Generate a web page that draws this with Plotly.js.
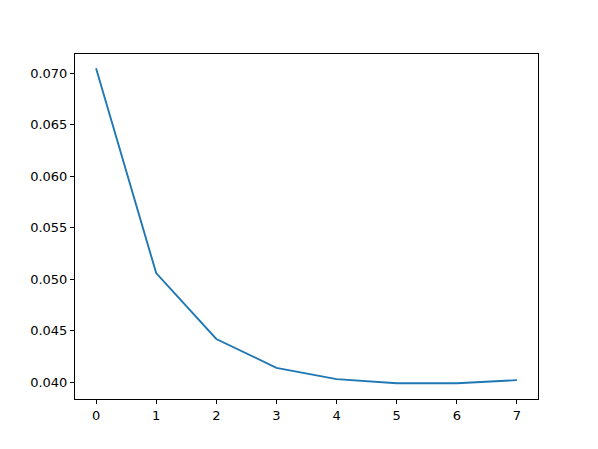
<!DOCTYPE html>
<html>
<head>
<meta charset="utf-8">
<script src="https://cdn.plot.ly/plotly-3.0.1.min.js"></script>
<style>
  html, body { margin: 0; padding: 0; background: #fff; }
  #chart { width: 598px; height: 449px; }
</style>
</head>
<body>
<div id="chart"></div>
<script>
// values
const steps = [0, 1, 2, 3, 4, 5, 6, 7];
const values = [0.0705, 0.0506, 0.0442, 0.0414, 0.0403, 0.0399, 0.0399, 0.0402];

const axisStyle = {
    showline: true,
    mirror: true,
    linecolor: '#000',
    linewidth: 1,
    ticks: 'outside',
    ticklen: 4,
    tickwidth: 1,
    tickcolor: '#000',
    showgrid: false,
    zeroline: false,
    tickfont: { family: 'DejaVu Sans', size: 13, color: '#000' }
};

Plotly.newPlot('chart', [{
    x: steps,
    y: values,
    mode: 'lines',
    line: { color: '#1f77b4', width: 1.9 },
    showlegend: false
}], {
    width: 598,
    height: 449,
    margin: { l: 75, r: 60, t: 54, b: 50 },
    paper_bgcolor: '#fff',
    plot_bgcolor: '#fff',
    xaxis: Object.assign({}, axisStyle, {
        range: [-0.35, 7.35],
        tickvals: steps
    }),
    yaxis: Object.assign({}, axisStyle, {
        range: [0.03837, 0.07189],
        tickvals: [0.040, 0.045, 0.050, 0.055, 0.060, 0.065, 0.070],
        tickformat: '.3f'
    })
}, { displayModeBar: false, staticPlot: true });
</script>
</body>
</html>
